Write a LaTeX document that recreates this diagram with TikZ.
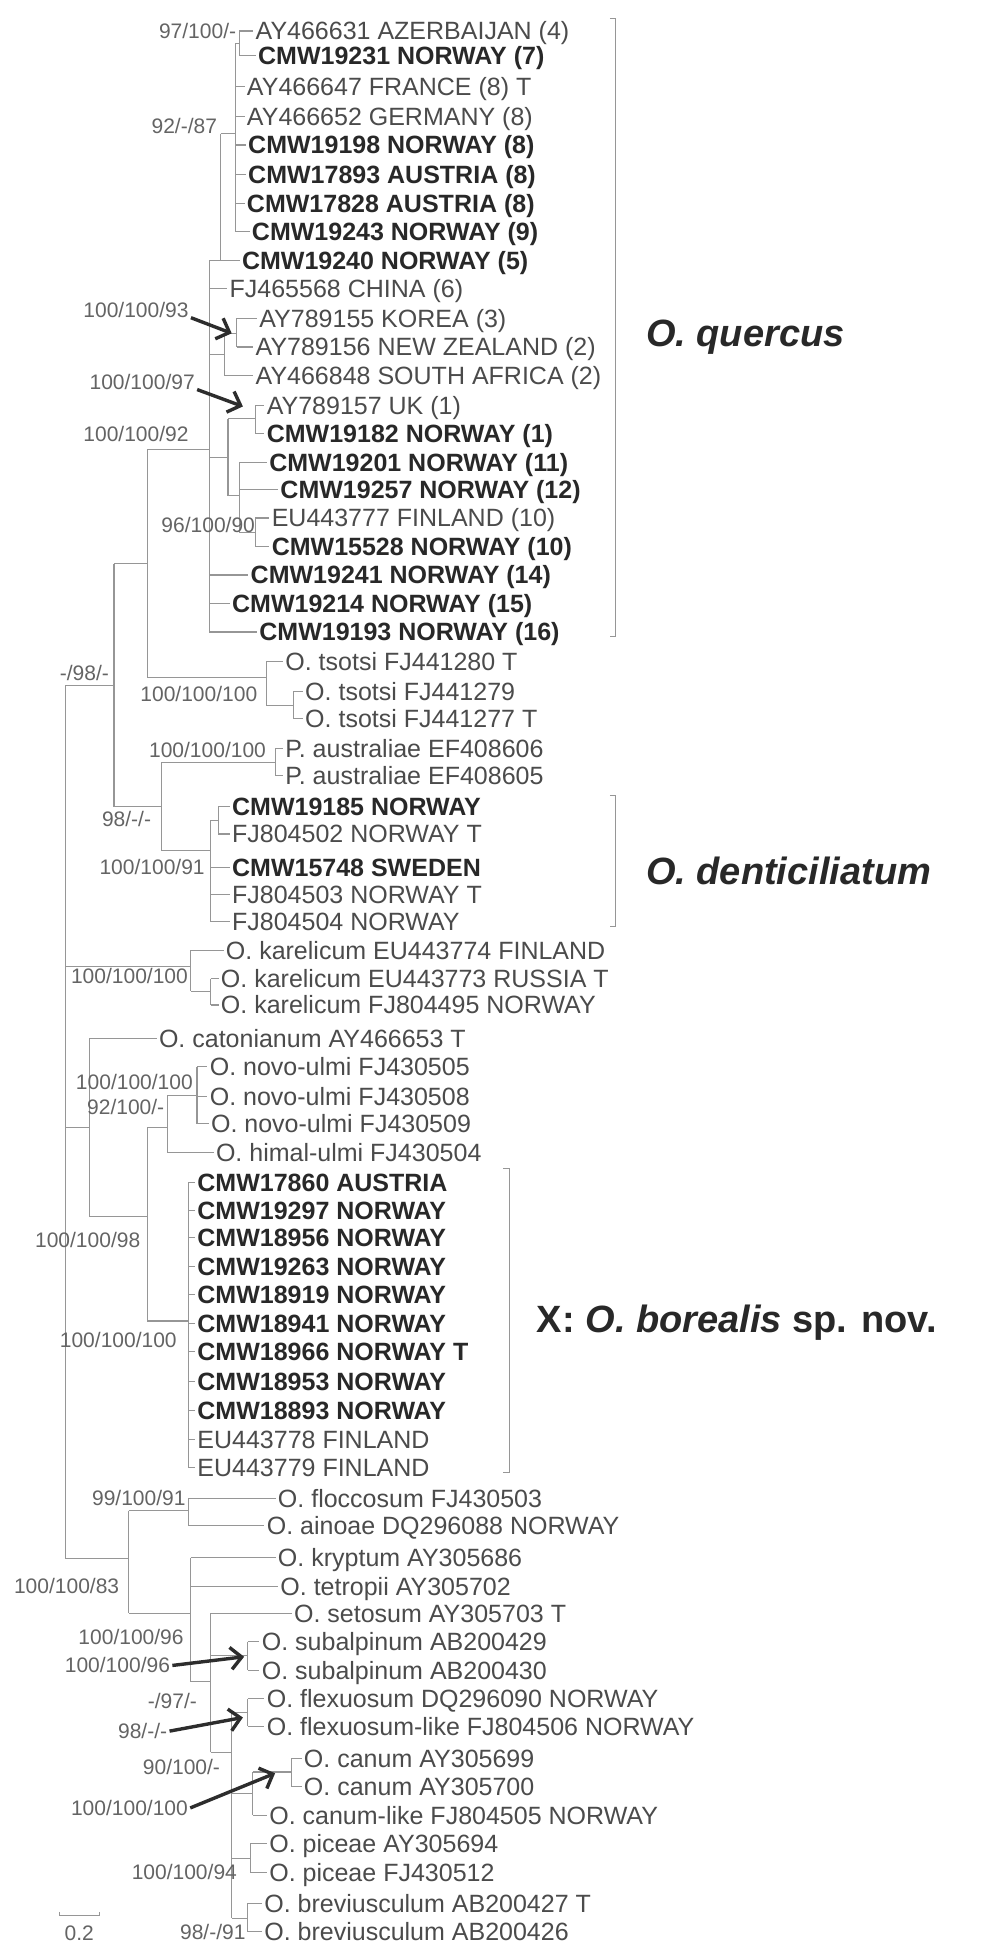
\documentclass[tikz,border=0pt]{standalone}
\usepackage{fontspec}
\setmainfont{Liberation Sans}
\usetikzlibrary{arrows.meta}
\definecolor{brc}{RGB}{150,150,150}
\definecolor{txb}{RGB}{40,40,40}
\definecolor{txr}{RGB}{75,75,75}
\definecolor{supc}{RGB}{100,100,100}
\definecolor{arc}{RGB}{45,45,45}
\newcommand\tlf[2]{\draw[br] (#1 |- #2.west) -- ([xshift=-1pt]#2.west);}
\newcommand\tin[2]{\draw[br] (#1 |- #2) -- (#2);}
\newcommand\tvb[3]{\draw[br] (#1 |- #2) -- (#1 |- #3);}
\begin{document}
\begin{tikzpicture}[x=0.6194pt,y=-0.6194pt,
 br/.style={draw=brc,line width=0.55pt},
 lf/.style={anchor=west,inner sep=0pt,text height=9pt,text depth=0pt,font=\fontsize{12.5}{14}\selectfont,text=txr},
 lb/.style={lf,font=\fontsize{12.5}{14}\selectfont\bfseries,text=txb},
 sv/.style={anchor=west,inner sep=0pt,text height=7.5pt,text depth=0pt,font=\fontsize{10.5}{12}\selectfont,text=supc},
 arr/.style={draw=arc,line width=1.7pt,-{Straight Barb[length=5.5pt,width=11pt]}},
 cl/.style={anchor=west,inner sep=0pt,font=\fontsize{19}{23}\selectfont\bfseries,text=txb}]
\useasboundingbox[fill=white] (0,0) rectangle (804,1568);
% leaves
\node[lf] (r1) at (206,25) {AY466631 AZERBAIJAN (4)};
\node[lb] (r2) at (208,45) {CMW19231 NORWAY (7)};
\node[lf] (r3) at (199,70) {AY466647 FRANCE (8) T};
\node[lf] (r4) at (199,94) {AY466652 GERMANY (8)};
\node[lb] (r5) at (200,117) {CMW19198 NORWAY (8)};
\node[lb] (r6) at (200,141) {CMW17893 AUSTRIA (8)};
\node[lb] (r7) at (199,164) {CMW17828 AUSTRIA (8)};
\node[lb] (r8) at (203,187) {CMW19243 NORWAY (9)};
\node[lb] (r9) at (195,210) {CMW19240 NORWAY (5)};
\node[lf] (r10) at (185,233) {FJ465568 CHINA (6)};
\node[lf] (r11) at (209,257) {AY789155 KOREA (3)};
\node[lf] (r12) at (206,280) {AY789156 NEW ZEALAND (2)};
\node[lf] (r13) at (206,303) {AY466848 SOUTH AFRICA (2)};
\node[lf] (r14) at (215,327) {AY789157 UK (1)};
\node[lb] (r15) at (215,350) {CMW19182 NORWAY (1)};
\node[lb] (r16) at (217,373) {CMW19201 NORWAY (11)};
\node[lb] (r17) at (226,395) {CMW19257 NORWAY (12)};
\node[lf] (r18) at (219,418) {EU443777 FINLAND (10)};
\node[lb] (r19) at (219,441) {CMW15528 NORWAY (10)};
\node[lb] (r20) at (202,464) {CMW19241 NORWAY (14)};
\node[lb] (r21) at (187,487) {CMW19214 NORWAY (15)};
\node[lb] (r22) at (209,510) {CMW19193 NORWAY (16)};
\node[lf] (r23) at (230,534) {O. tsotsi FJ441280 T};
\node[lf] (r24) at (246,558) {O. tsotsi FJ441279};
\node[lf] (r25) at (246,580) {O. tsotsi FJ441277 T};
\node[lf] (r26) at (230,604) {P. australiae EF408606};
\node[lf] (r27) at (230,626) {P. australiae EF408605};
\node[lb] (r28) at (187,651) {CMW19185 NORWAY};
\node[lf] (r29) at (187,673) {FJ804502 NORWAY T};
\node[lb] (r30) at (187,700) {CMW15748 SWEDEN};
\node[lf] (r31) at (187,722) {FJ804503 NORWAY T};
\node[lf] (r32) at (187,744) {FJ804504 NORWAY};
\node[lf] (r33) at (182,767) {O. karelicum EU443774 FINLAND};
\node[lf] (r34) at (178,790) {O. karelicum EU443773 RUSSIA T};
\node[lf] (r35) at (178,811) {O. karelicum FJ804495 NORWAY};
\node[lf] (r36) at (128,838) {O. catonianum AY466653 T};
\node[lf] (r37) at (169,861) {O. novo-ulmi FJ430505};
\node[lf] (r38) at (169,885) {O. novo-ulmi FJ430508};
\node[lf] (r39) at (170,907) {O. novo-ulmi FJ430509};
\node[lf] (r40) at (174,930) {O. himal-ulmi FJ430504};
\node[lb] (r41) at (159,954) {CMW17860 AUSTRIA};
\node[lb] (r42) at (159,977) {CMW19297 NORWAY};
\node[lb] (r43) at (159,999) {CMW18956 NORWAY};
\node[lb] (r44) at (159,1022) {CMW19263 NORWAY};
\node[lb] (r45) at (159,1045) {CMW18919 NORWAY};
\node[lb] (r46) at (159,1068) {CMW18941 NORWAY};
\node[lb] (r47) at (159,1091) {CMW18966 NORWAY T};
\node[lb] (r48) at (159,1115) {CMW18953 NORWAY};
\node[lb] (r49) at (159,1138) {CMW18893 NORWAY};
\node[lf] (r50) at (159,1162) {EU443778 FINLAND};
\node[lf] (r51) at (159,1184) {EU443779 FINLAND};
\node[lf] (r52) at (224,1209) {O. floccosum FJ430503};
\node[lf] (r53) at (215,1231) {O. ainoae DQ296088 NORWAY};
\node[lf] (r54) at (224,1257) {O. kryptum AY305686};
\node[lf] (r55) at (226,1280) {O. tetropii AY305702};
\node[lf] (r56) at (237,1302) {O. setosum AY305703 T};
\node[lf] (r57) at (211,1325) {O. subalpinum AB200429};
\node[lf] (r58) at (211,1348) {O. subalpinum AB200430};
\node[lf] (r59) at (215,1371) {O. flexuosum DQ296090 NORWAY};
\node[lf] (r60) at (215,1393) {O. flexuosum-like FJ804506 NORWAY};
\node[lf] (r61) at (245,1419) {O. canum AY305699};
\node[lf] (r62) at (245,1442) {O. canum AY305700};
\node[lf] (r63) at (217,1465) {O. canum-like FJ804505 NORWAY};
\node[lf] (r64) at (217,1488) {O. piceae AY305694};
\node[lf] (r65) at (217,1511) {O. piceae FJ430512};
\node[lf] (r66) at (213,1536) {O. breviusculum AB200427 T};
\node[lf] (r67) at (213,1559) {O. breviusculum AB200426};
% internal nodes
\coordinate (N12) at (193,35);
\coordinate (A) at (190,108);
\coordinate (S1) at (178,210);
\coordinate (Q) at (169,363);
\coordinate (K) at (191,269);
\coordinate (KS) at (181,286);
\coordinate (UKp) at (206,338);
\coordinate (U) at (184,369);
\coordinate (V) at (193,400);
\coordinate (Fp) at (206,430);
\coordinate (P1) at (119,455);
\coordinate (T) at (215,547);
\coordinate (T2) at (237,569);
\coordinate (P2) at (92,553);
\coordinate (D) at (130,651);
\coordinate (Pa) at (222,615);
\coordinate (Dn) at (170,686);
\coordinate (Dsub) at (176,662);
\coordinate (R) at (53,553);
\coordinate (Kr) at (154,780);
\coordinate (Kr2) at (170,800);
\coordinate (C) at (72,910);
\coordinate (NB) at (119,982);
\coordinate (NH) at (135,910);
\coordinate (Nv) at (159,884);
\coordinate (B) at (152,1066);
\coordinate (L) at (104,1258);
\coordinate (FA) at (152,1219);
\coordinate (M) at (154,1302);
\coordinate (N) at (170,1357);
\coordinate (W) at (187,1414);
\coordinate (CN) at (204,1447);
\coordinate (CP) at (235,1430);
\coordinate (PP) at (202,1500);
\coordinate (BP) at (200,1548);
\coordinate (SP) at (200,1336);
\coordinate (FP) at (200,1382);
% branches
\tvb{N12}{r1}{r2}\tlf{N12}{r1}\tlf{N12}{r2}
\tvb{A}{N12}{r8}\tin{A}{N12}\tlf{A}{r3}\tlf{A}{r4}\tlf{A}{r5}\tlf{A}{r6}\tlf{A}{r7}\tlf{A}{r8}
\tvb{S1}{A}{r9}\tin{S1}{A}\tlf{S1}{r9}
\tvb{Q}{S1}{r22}\tin{Q}{S1}\tlf{Q}{r10}\tin{Q}{KS}\tin{Q}{U}\tlf{Q}{r20}\tlf{Q}{r21}\tlf{Q}{r22}
\tvb{K}{r11}{r12}\tlf{K}{r11}\tlf{K}{r12}
\tvb{KS}{K}{r13}\tin{KS}{K}\tlf{KS}{r13}
\tvb{UKp}{r14}{r15}\tlf{UKp}{r14}\tlf{UKp}{r15}
\tvb{U}{UKp}{V}\tin{U}{UKp}\tin{U}{V}
\tvb{V}{r16}{Fp}\tlf{V}{r16}\tlf{V}{r17}\tin{V}{Fp}
\tvb{Fp}{r18}{r19}\tlf{Fp}{r18}\tlf{Fp}{r19}
\tvb{P1}{Q}{T}\tin{P1}{Q}\tin{P1}{T}
\tvb{T}{r23}{T2}\tlf{T}{r23}\tin{T}{T2}
\tvb{T2}{r24}{r25}\tlf{T2}{r24}\tlf{T2}{r25}
\tvb{P2}{P1}{D}\tin{P2}{P1}\tin{P2}{D}
\tvb{D}{Pa}{Dn}\tin{D}{Pa}\tin{D}{Dn}
\tvb{Pa}{r26}{r27}\tlf{Pa}{r26}\tlf{Pa}{r27}
\tvb{Dn}{Dsub}{r32}\tin{Dn}{Dsub}\tlf{Dn}{r30}\tlf{Dn}{r31}\tlf{Dn}{r32}
\tvb{Dsub}{r28}{r29}\tlf{Dsub}{r28}\tlf{Dsub}{r29}
\tvb{R}{P2}{L}\tin{R}{P2}\tin{R}{Kr}\tin{R}{C}\tin{R}{L}
\tvb{Kr}{r33}{Kr2}\tlf{Kr}{r33}\tin{Kr}{Kr2}
\tvb{Kr2}{r34}{r35}\tlf{Kr2}{r34}\tlf{Kr2}{r35}
\tvb{C}{r36}{NB}\tlf{C}{r36}\tin{C}{NB}
\tvb{NB}{NH}{B}\tin{NB}{NH}\tin{NB}{B}
\tvb{NH}{Nv}{r40}\tin{NH}{Nv}\tlf{NH}{r40}
\tvb{Nv}{r37}{r39}\tlf{Nv}{r37}\tlf{Nv}{r38}\tlf{Nv}{r39}
\tvb{B}{r41}{r51}
\foreach \i in {41,...,51}{\tlf{B}{r\i}}
\tvb{L}{FA}{M}\tin{L}{FA}\tin{L}{M}
\tvb{FA}{r52}{r53}\tlf{FA}{r52}\tlf{FA}{r53}
\tvb{M}{r54}{N}\tlf{M}{r54}\tlf{M}{r55}\tin{M}{N}
\tvb{N}{r56}{W}\tlf{N}{r56}\tin{N}{SP}\tin{N}{W}
\tvb{SP}{r57}{r58}\tlf{SP}{r57}\tlf{SP}{r58}
\tvb{W}{FP}{BP}\tin{W}{FP}\tin{W}{CN}\tin{W}{PP}\tin{W}{BP}
\tvb{FP}{r59}{r60}\tlf{FP}{r59}\tlf{FP}{r60}
\tvb{CN}{CP}{r63}\tin{CN}{CP}\tlf{CN}{r63}
\tvb{CP}{r61}{r62}\tlf{CP}{r61}\tlf{CP}{r62}
\tvb{PP}{r64}{r65}\tlf{PP}{r64}\tlf{PP}{r65}
\tvb{BP}{r66}{r67}\tlf{BP}{r66}\tlf{BP}{r67}
% clade brackets
\coordinate (qt) at (497,15); \coordinate (qb) at (497,514);
\draw[br] ([xshift=-3pt]qt) -- (qt) -- (qb) -- ([xshift=-3pt]qb);
\coordinate (dt) at (497,642); \coordinate (db) at (497,748);
\draw[br] ([xshift=-3pt]dt) -- (dt) -- (db) -- ([xshift=-3pt]db);
\coordinate (xt) at (411,943); \coordinate (xb) at (411,1188);
\draw[br] ([xshift=-3pt]xt) -- (xt) -- (xb) -- ([xshift=-3pt]xb);
\node[cl] (lq) at (521,272) {\itshape O. quercus};
\node[cl] (ld) at (521,703) {\itshape O. denticiliatum};
\node[cl] (lx) at (433,1067) {X: \textit{O. borealis} sp. nov.};
% support values
\node[sv] (s1) at (128,25) {97/100/-};
\node[sv] (s2) at (122,102) {92/-/87};
\node[sv] (s3) at (67,250) {100/100/93};
\node[sv] (s4) at (72,308) {100/100/97};
\node[sv] (s5) at (67,350) {100/100/92};
\node[sv] (s6) at (130,424) {96/100/90};
\node[sv] (s7) at (48,543) {-/98/-};
\node[sv] (s8) at (113,560) {100/100/100};
\node[sv] (s9) at (120,605) {100/100/100};
\node[sv] (s10) at (82,661) {98/-/-};
\node[sv] (s11) at (80,700) {100/100/91};
\node[sv] (s12) at (57,788) {100/100/100};
\node[sv] (s13) at (61,873) {100/100/100};
\node[sv] (s14) at (70,893) {92/100/-};
\node[sv] (s15) at (28,1001) {100/100/98};
\node[sv] (s16) at (48,1081) {100/100/100};
\node[sv] (s17) at (74,1209) {99/100/91};
\node[sv] (s18) at (11,1280) {100/100/83};
\node[sv] (s19) at (63,1321) {100/100/96};
\node[sv] (s20) at (52,1344) {100/100/96};
\node[sv] (s21) at (119,1373) {-/97/-};
\node[sv] (s22) at (95,1397) {98/-/-};
\node[sv] (s23) at (115,1426) {90/100/-};
\node[sv] (s24) at (57,1459) {100/100/100};
\node[sv] (s25) at (106,1511) {100/100/94};
\node[sv] (s26) at (145,1559) {98/-/91};
% arrows
\coordinate (t1) at (187,269);
\coordinate (t2) at (196,328);
\coordinate (t3) at (197,1337);
\coordinate (t4) at (196,1386);
\coordinate (t5) at (222,1431);
\draw[arr] ([xshift=1pt]s3.south east) -- (t1);
\draw[arr] ([xshift=1pt]s4.south east) -- (t2);
\draw[arr] ([xshift=1pt]s20.east) -- (t3);
\draw[arr] ([xshift=1pt]s22.east) -- (t4);
\draw[arr] ([xshift=1pt]s24.east) -- (t5);
% scale bar
\coordinate (sb1) at (48,1546); \coordinate (sb2) at (80,1546);
\draw[br] ([yshift=2pt]sb1) -- (sb1) -- (sb2) -- ([yshift=2pt]sb2);
\node[sv,anchor=center] (sbl) at (64,1560) {0.2};
\end{tikzpicture}
\end{document}
